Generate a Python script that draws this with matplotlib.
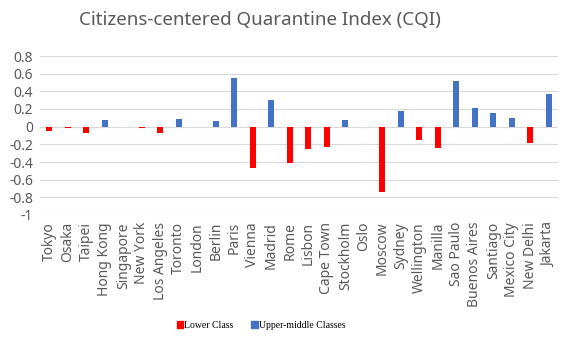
import numpy as np
import matplotlib.pyplot as plt
from matplotlib.patches import Patch

cities = ['Tokyo', 'Osaka', 'Taipei', 'Hong Kong', 'Singapore', 'New York',
          'Los Angeles', 'Toronto', 'London', 'Berlin', 'Paris', 'Vienna',
          'Madrid', 'Rome', 'Lisbon', 'Cape Town', 'Stockholm', 'Oslo',
          'Moscow', 'Sydney', 'Wellington', 'Manilla', 'Sao Paulo',
          'Buenos Aires', 'Santiago', 'Mexico City', 'New Delhi', 'Jakarta']

cqi = [-0.05, -0.02, -0.07, 0.07, 0.0, -0.02,
       -0.07, 0.09, 0.0, 0.06, 0.55, -0.47,
       0.30, -0.41, -0.25, -0.23, 0.08, 0.0,
       -0.74, 0.18, -0.15, -0.24, 0.52,
       0.21, 0.15, 0.10, -0.18, 0.37]

COR_BAIXA = '#ff0000'
COR_MEDIA = '#4472c4'
COR_TEXTO = '#595959'

plt.rcParams['font.family'] = ['Noto Sans', 'DejaVu Sans']

x = np.arange(len(cities))
vals = np.array(cqi)
lower = np.where(vals < 0, vals, 0.0)
upper = np.where(vals > 0, vals, 0.0)

fig = plt.figure(figsize=(5.71, 3.48), dpi=100)
ax = fig.add_axes([40 / 571, 1 - 215 / 348, 518 / 571, 159 / 348])

ax.bar(x, lower, width=0.33, color=COR_BAIXA, zorder=2)
ax.bar(x, upper, width=0.33, color=COR_MEDIA, zorder=2)

ax.set_xlim(-0.5, len(cities) - 0.5)
ax.set_ylim(-1, 0.8)
ax.set_yticks(np.arange(-1, 0.81, 0.2))
ax.set_yticklabels(['-1', '-0.8', '-0.6', '-0.4', '-0.2', '0', '0.2', '0.4', '0.6', '0.8'])
ax.set_xticks(x)
ax.set_xticklabels(cities, rotation=90, va='top')
ax.tick_params(axis='both', length=0, labelsize=10, colors=COR_TEXTO)
ax.tick_params(axis='x', pad=5)
ax.tick_params(axis='y', pad=5)
ax.grid(axis='y', color='#d9d9d9', linewidth=0.8, zorder=0)
for s in ax.spines.values():
    s.set_visible(False)

fig.text(260 / 571, 1 - 20 / 348, 'Citizens-centered Quarantine Index (CQI)',
         ha='center', va='center', fontsize=13.5, color=COR_TEXTO)

legenda = [Patch(color=COR_BAIXA, label='Lower Class'),
           Patch(color=COR_MEDIA, label='Upper-middle Classes')]
fig.legend(handles=legenda, loc='center', bbox_to_anchor=(261 / 571, 1 - 325 / 348),
           ncol=2, frameon=False, handlelength=0.7, handleheight=0.7,
           handletextpad=0.1, columnspacing=1.8,
           prop={'family': 'Liberation Serif', 'size': 7})

fig.savefig('out.png', dpi=100)
